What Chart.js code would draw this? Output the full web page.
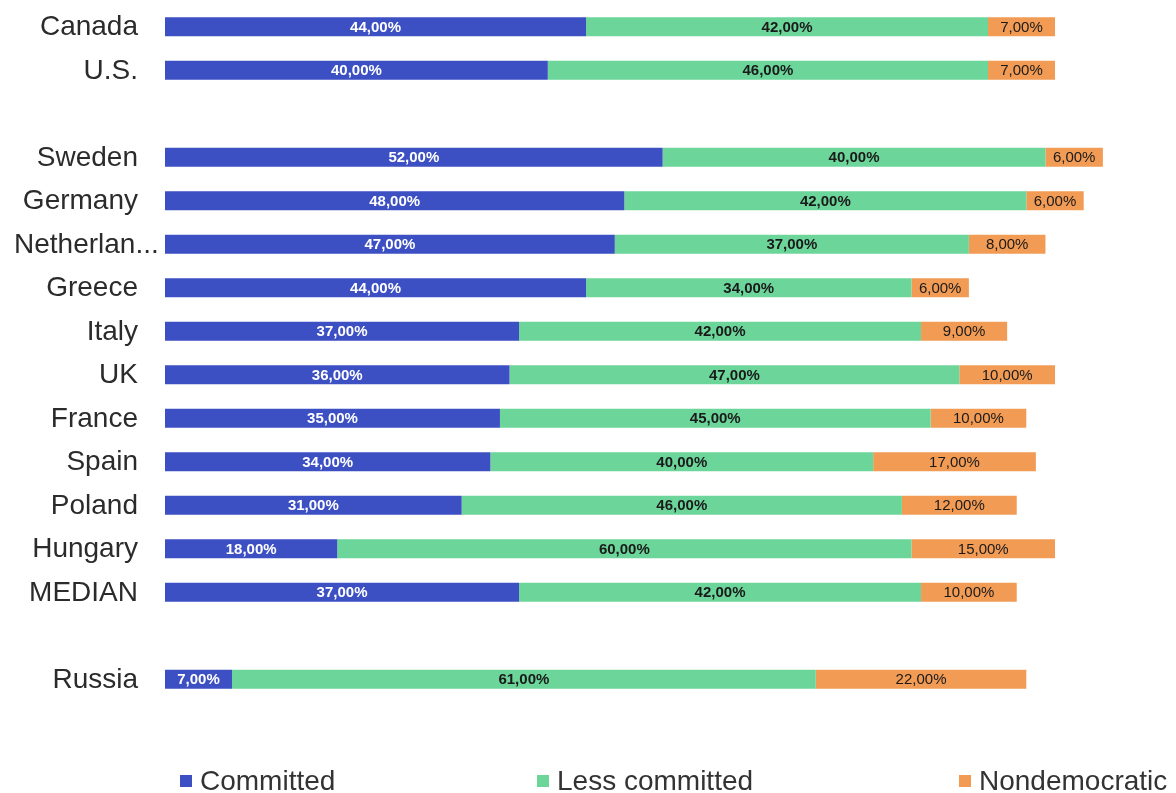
<!DOCTYPE html>
<html>
<head>
<meta charset="utf-8">
<script src="https://cdn.jsdelivr.net/npm/chart.js@4.4.1/dist/chart.umd.min.js"></script>
<style>
  html, body { margin: 0; padding: 0; background: #fff; overflow: hidden; }
  #wrap { position: relative; width: 1176px; height: 793px; }
  #legend { position: absolute; top: 765px; left: 0; width: 1176px; height: 32px;
    font: 28px "Liberation Sans", Arial, sans-serif; color: #333; }
  .legend-item { position: absolute; top: 0; white-space: nowrap; display: flex; align-items: center; height: 32px; }
  .legend-box { width: 12px; height: 12px; margin-right: 8px; }
</style>
</head>
<body>
<div id="wrap">
  <canvas id="chart" width="1176" height="793"></canvas>
  <div id="legend"></div>
</div>
<script>
// empty strings are the spacer rows between groups
const countries = ["Canada", "U.S.", "", "Sweden", "Germany", "Netherlands", "Greece", "Italy",
  "UK", "France", "Spain", "Poland", "Hungary", "MEDIAN", "", "Russia"];
const committed = [44, 40, null, 52, 48, 47, 44, 37, 36, 35, 34, 31, 18, 37, null, 7];
const lessCommitted = [42, 46, null, 40, 42, 37, 34, 42, 47, 45, 40, 46, 60, 42, null, 61];
const nondemocratic = [7, 7, null, 6, 6, 8, 6, 9, 10, 10, 17, 12, 15, 10, null, 22];

const seriesNames = ["Committed", "Less committed", "Nondemocratic"];
const seriesColors = ["#3d50c3", "#6cd69a", "#f19b55"];
const labelColors = ["#ffffff", "#1a1a1a", "#1a1a1a"];
const labelFonts = [
  'bold 15px "Liberation Sans", Arial, sans-serif',
  'bold 15px "Liberation Sans", Arial, sans-serif',
  '15px "Liberation Sans", Arial, sans-serif',
];
const legendLeft = [180, 537, 959];

const formatPercent = (value) => `${value.toFixed(2).replace(".", ",")}%`;

const segmentLabels = {
  id: "segmentLabels",
  afterDatasetsDraw(chart) {
    const ctx = chart.ctx;
    ctx.save();
    ctx.textAlign = "center";
    ctx.textBaseline = "middle";
    chart.data.datasets.forEach((dataset, i) => {
      const meta = chart.getDatasetMeta(i);
      meta.data.forEach((bar, index) => {
        const value = dataset.data[index];
        if (value === null) {
          return;
        }
        ctx.font = labelFonts[i];
        ctx.fillStyle = labelColors[i];
        ctx.fillText(formatPercent(value), (bar.x + bar.base) / 2, bar.y + 1);
      });
    });
    ctx.restore();
  },
};

// category labels drawn by hand so a long name can spill into the left margin
const countryLabels = {
  id: "countryLabels",
  afterDraw(chart) {
    const ctx = chart.ctx;
    const yScale = chart.scales.y;
    const right = chart.chartArea.left - 27;
    ctx.save();
    ctx.font = '28px "Liberation Sans", Arial, sans-serif';
    ctx.fillStyle = "#2b2b2b";
    ctx.textBaseline = "middle";
    countries.forEach((name, index) => {
      if (!name) {
        return;
      }
      const text = name.length > 10 ? `${name.slice(0, 9)}...` : name;
      const y = yScale.getPixelForValue(index) + 1;
      if (ctx.measureText(text).width > right - 14) {
        ctx.textAlign = "left";
        ctx.fillText(text, 14, y);
      } else {
        ctx.textAlign = "right";
        ctx.fillText(text, right, y);
      }
    });
    ctx.restore();
  },
};

new Chart(document.getElementById("chart"), {
  type: "bar",
  data: {
    labels: countries,
    datasets: [committed, lessCommitted, nondemocratic].map((values, i) => ({
      label: seriesNames[i],
      data: values,
      backgroundColor: seriesColors[i],
      borderWidth: 0,
      barPercentage: 0.44,
      categoryPercentage: 1,
    })),
  },
  options: {
    indexAxis: "y",
    responsive: false,
    animation: false,
    layout: {
      padding: { left: 165, right: 54, top: 5, bottom: 92 },
    },
    plugins: {
      legend: { display: false },
      tooltip: { enabled: false },
    },
    scales: {
      x: { stacked: true, min: 0, max: 100, display: false },
      y: { stacked: true, display: false },
    },
  },
  plugins: [segmentLabels, countryLabels],
});

const legend = document.getElementById("legend");
seriesNames.forEach((name, i) => {
  const item = document.createElement("div");
  item.className = "legend-item";
  item.style.left = `${legendLeft[i]}px`;
  item.innerHTML = `<span class="legend-box" style="background:${seriesColors[i]}"></span><span>${name}</span>`;
  legend.appendChild(item);
});
</script>
</body>
</html>
